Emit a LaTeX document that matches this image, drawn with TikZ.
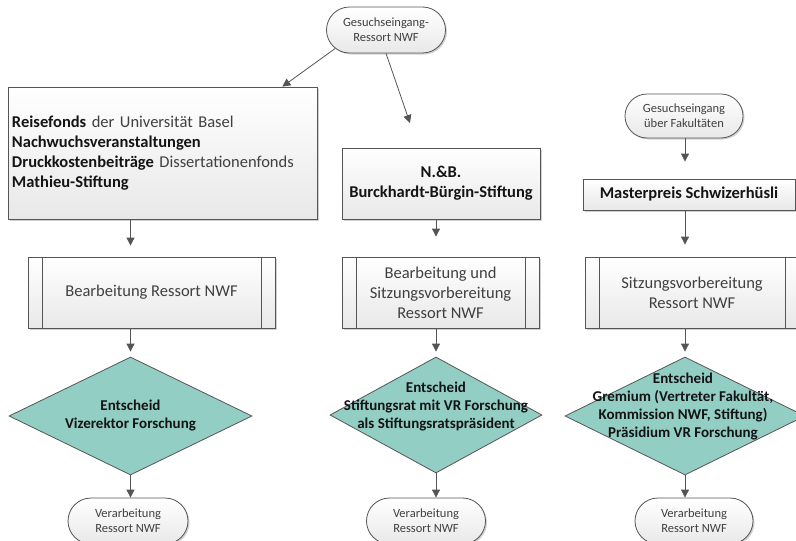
\documentclass[tikz,border=0pt]{standalone}
\usepackage{fontspec}
\setmainfont{Carlito}
\usetikzlibrary{shapes.geometric,shapes.misc,arrows.meta,shadows}
\definecolor{linec}{RGB}{85,85,85}
\definecolor{tealfill}{RGB}{147,206,196}
\definecolor{txt}{RGB}{64,64,64}
\definecolor{txtb}{RGB}{20,20,20}
\newcommand\bftxt[1]{{\color{txtb}\bfseries #1}}
\begin{document}
\begin{tikzpicture}[x=1pt,y=-1pt,line width=0.8pt,
  shad/.style={drop shadow={shadow xshift=1.5pt,shadow yshift=-1.5pt,opacity=0.3,fill=black!60}},
  boxfill/.style={top color=white,bottom color=black!9},
  procbox/.style={draw=linec,boxfill,shad,rectangle,inner sep=0pt,
    font=\fontsize{16.5}{20}\selectfont,text=txt,align=center},
  subproc/.style={procbox,path picture={
    \draw[linec,line width=0.8pt] ([xshift=14pt]path picture bounding box.north west) -- ([xshift=14pt]path picture bounding box.south west);
    \draw[linec,line width=0.8pt] ([xshift=-14pt]path picture bounding box.north east) -- ([xshift=-14pt]path picture bounding box.south east);}},
  term/.style={rounded rectangle,draw=linec,boxfill,shad,inner sep=0pt,
    minimum height=46pt,font=\fontsize{12.5}{15}\selectfont,text=txt,align=center},
  decision/.style={diamond,draw=linec,fill=tealfill,inner sep=0pt},
  dtext/.style={font=\fontsize{15}{18}\selectfont\bfseries,text=txtb,align=center,inner sep=0pt},
  arr/.style={draw=linec,-{Triangle[width=8pt,length=8pt]}}
]
\useasboundingbox (0,0) rectangle (796,541);
\clip (0,0) rectangle (796,541);

% top terminal
\node[term,minimum width=119pt] (t0) at (386,30) {Gesuchseingang-\\Ressort NWF};

% column 1
\node[procbox,minimum width=309pt,minimum height=132pt,text width=301pt,align=left] (box1) at (162.5,153)
  {\bftxt{Reisefonds} der Universität Basel\\
   \bftxt{Nachwuchsveranstaltungen}\\
   \bftxt{Druckkostenbeiträge} Dissertationenfonds\\
   \bftxt{Mathieu-Stiftung}};
\node[subproc,minimum width=247pt,minimum height=71pt] (sub1) at (151.5,292.5) {Bearbeitung Ressort NWF};
\node[decision,minimum width=243pt,minimum height=118pt] (d1) at (130.5,416) {};
\node[dtext] (d1t) at (130.5,416) {Entscheid\\Vizerektor Forschung};
\node[term,minimum width=120pt] (tb1) at (128,521) {Verarbeitung\\Ressort NWF};

% column 2
\node[procbox,minimum width=198pt,minimum height=71pt,font=\fontsize{16.5}{20}\selectfont\bfseries,text=txtb] (nb) at (441,183.5)
  {N.\&B.\\Burckhardt-Bürgin-Stiftung};
\node[subproc,minimum width=197pt,minimum height=71pt] (sub2) at (440.5,292.5)
  {Bearbeitung und\\Sitzungsvorbereitung\\Ressort NWF};
\node[decision,minimum width=212pt,minimum height=116pt] (d2) at (436,415) {};
\node[dtext] (d2t) at (436,406.5) {Entscheid\\Stiftungsrat mit VR Forschung\\als Stiftungsratspräsident};
\node[term,minimum width=119pt] (tb2) at (426,521) {Verarbeitung\\Ressort NWF};

% column 3
\node[term,minimum width=118pt,minimum height=44pt] (tf) at (684,116) {Gesuchseingang\\über Fakultäten};
\node[procbox,minimum width=212pt,minimum height=31pt,font=\fontsize{16.5}{20}\selectfont\bfseries,text=txtb] (mp) at (689,194.5)
  {Masterpreis Schwizerhüsli};
\node[subproc,minimum width=214pt,minimum height=71pt] (sub3) at (692,292.5)
  {Sitzungsvorbereitung\\Ressort NWF};
\node[decision,minimum width=240pt,minimum height=118pt] (d3) at (685,416) {};
\node[dtext] (d3t) at (683,406.5) {Entscheid\\Gremium (Vertreter Fakultät,\\Kommission NWF, Stiftung)\\Präsidium VR Forschung};
\node[term,minimum width=118pt] (tb3) at (694,521) {Verarbeitung\\Ressort NWF};

% connectors from top terminal
\coordinate (e2) at (410,123);
\draw[arr] (t0.200) -- ([xshift=-35pt]box1.north east);
\draw[arr] (t0.south) -- (e2);

% column 1 arrows
\draw[arr,shorten >=11pt] (box1.south -| d1) -- (sub1.north -| d1);
\draw[arr,shorten >=5pt] (sub1.south -| d1) -- (d1.north);
\draw[arr] (d1.south) -- (tb1.north -| d1);

% column 2 arrows
\draw[arr,shorten >=20pt] (nb.south -| d2) -- (sub2.north -| d2);
\draw[arr,shorten >=5pt] (sub2.south -| d2) -- (d2.north);
\draw[arr] (d2.south) -- (tb2.north -| d2);

% column 3 arrows
\draw[arr,shorten >=17pt] (tf.south -| d3) -- (mp.north -| d3);
\draw[arr,shorten >=12pt] (mp.south -| d3) -- (sub3.north -| d3);
\draw[arr,shorten >=5pt] (sub3.south -| d3) -- (d3.north);
\draw[arr] (d3.south) -- (tb3.north -| d3);
\end{tikzpicture}
\end{document}
